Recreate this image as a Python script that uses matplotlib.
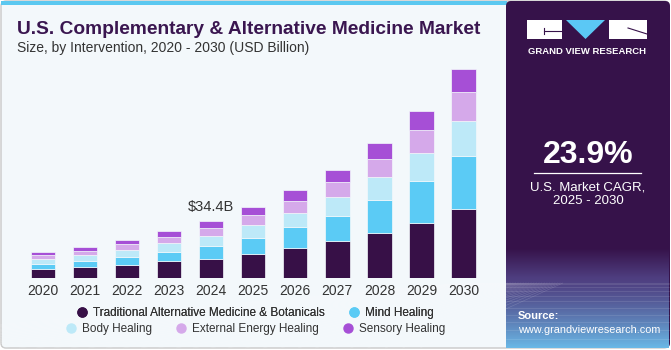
import numpy as np
import matplotlib.pyplot as plt
from matplotlib.patches import FancyBboxPatch, Rectangle, Polygon
from matplotlib.lines import Line2D

plt.rcParams['font.family'] = ['Liberation Sans', 'DejaVu Sans']

years = ['2020', '2021', '2022', '2023', '2024', '2025', '2026', '2027', '2028', '2029', '2030']
traditional = [5.4, 6.6, 8.2, 10.2, 11.8, 14.7, 18.1, 22.1, 26.9, 33.3, 41.4]
mind = [3.4, 3.8, 4.6, 5.6, 7.7, 9.6, 12.4, 15.3, 19.9, 24.9, 31.5]
body = [2.8, 3.4, 4.2, 5.2, 6.0, 7.4, 8.4, 11.2, 13.5, 16.7, 20.9]
external = [2.4, 2.4, 3.6, 3.4, 4.7, 5.8, 7.2, 8.6, 11.0, 13.5, 17.1]
sensory = [1.8, 2.6, 2.2, 3.6, 4.2, 5.2, 6.4, 7.6, 9.2, 11.2, 13.9]
series_names = ['Traditional Alternative Medicine & Botanicals', 'Mind Healing',
                'Body Healing', 'External Energy Healing', 'Sensory Healing']
colors = ['#371047', '#5BCBF5', '#BDE9F8', '#D5A9EA', '#A64FD6']
annot_year = '2024'
annot_text = '$34.4B'
cagr = '23.9%'

W, H = 671, 350
BG = '#F3F8FB'
PURPLE = '#36124A'

fig = plt.figure(figsize=(W / 100, H / 100), dpi=100)
fig.patch.set_facecolor('white')

# background layer in pixel coords
bg = fig.add_axes([0, 0, 1, 1], zorder=0)
bg.set_xlim(0, W)
bg.set_ylim(H, 0)
bg.axis('off')
bg.add_patch(FancyBboxPatch((1, 1), W - 3, H - 3, boxstyle='round,pad=0,rounding_size=5',
                            facecolor=BG, edgecolor='#C8C8C8', lw=1))
bg.add_patch(Rectangle((1, 0.5), 506, 4, facecolor='#5BC8F0', edgecolor='none'))

# right panel
bg.add_patch(FancyBboxPatch((506, 1), W - 507, H - 3, boxstyle='round,pad=0,rounding_size=5',
                            facecolor=PURPLE, edgecolor='none'))
top_c = np.array([0x36, 0x12, 0x4A]) / 255
mid_c = np.array([0x55, 0x4A, 0x8E]) / 255
bot_c = np.array([0x6A, 0xB8, 0xE6]) / 255
n = 100
grad = np.zeros((n, 1, 3))
for i in range(n):
    t = i / (n - 1)
    if t < 0.3:
        c = top_c + (mid_c - top_c) * (t / 0.3) * 0.8
    else:
        c = top_c + (mid_c - top_c) * 0.8 + (bot_c - (top_c + (mid_c - top_c) * 0.8)) * ((t - 0.3) / 0.7) ** 1.3
    grad[i, 0] = c
bg.imshow(grad, extent=(506, W - 2, H - 2, 248), aspect='auto', zorder=1)
# perspective mesh
for k in np.linspace(-260, 420, 40):
    bg.plot([588 + (k - 588) * 0.15, k], [283, H - 2], color='white', lw=0.4, alpha=0.18, zorder=2, clip_on=True)
for j in range(12):
    yy = 283 + (H - 2 - 283) * (j / 11) ** 1.6
    bg.plot([506, W - 2], [yy, yy], color='white', lw=0.4, alpha=0.18, zorder=2)
bg.set_xlim(0, W)
bg.set_ylim(H, 0)

# logo
bg.add_patch(Rectangle((527, 20), 35, 19, facecolor='white', zorder=3))
bg.plot([544, 562], [31, 31], color=PURPLE, lw=0.8, zorder=4)
bg.plot([544, 544], [28, 34], color=PURPLE, lw=0.8, zorder=4)
bg.add_patch(Polygon([[566, 20], [605, 20], [585.5, 39]], facecolor='#5BC8F5', zorder=3))
bg.add_patch(Rectangle((609, 20), 38, 19, facecolor='white', zorder=3))
bg.plot([628, 647], [28, 34], color=PURPLE, lw=0.8, zorder=4)
bg.text(587, 51, 'GRAND VIEW RESEARCH', color='white', fontsize=6.8, fontweight='bold',
        ha='center', va='center', zorder=4)

bg.text(588, 155, cagr, color='white', fontsize=23, fontweight='bold', ha='center', va='center', zorder=4)
bg.plot([534, 641], [173, 173], color='white', lw=0.9, zorder=4)
bg.text(588, 187, 'U.S. Market CAGR,', color='white', fontsize=9.5, ha='center', va='center', zorder=4)
bg.text(588, 201, '2025 - 2030', color='white', fontsize=9.5, ha='center', va='center', zorder=4)
bg.text(518, 316, 'Source:', color='white', fontsize=8, fontweight='bold', ha='left', va='center', zorder=4)
bg.text(518, 330, 'www.grandviewresearch.com', color='white', fontsize=7.8, ha='left', va='center', zorder=4)

# titles
bg.text(17, 29, 'U.S. Complementary & Alternative Medicine Market', color='#3A1650',
        fontsize=13.8, fontweight='bold', ha='left', va='center')
bg.text(17, 48, 'Size, by Intervention, 2020 - 2030 (USD Billion)', color='#333333',
        fontsize=10, ha='left', va='center')

# chart
ax = fig.add_axes([13.3 / W, 71.7 / H, 479.7 / W, 217.8 / H], zorder=2)
ax.patch.set_alpha(0)
x = np.arange(len(years))
bottom = np.zeros(len(years))
for vals, col in zip([traditional, mind, body, external, sensory], colors):
    ax.bar(x, vals, width=0.58, bottom=bottom, color=col, edgecolor=BG, linewidth=0.5)
    bottom += np.array(vals)
ax.set_xlim(-0.7, 10.7)
ax.set_ylim(0, 130)
ax.set_xticks(x)
ax.set_xticklabels(years, fontsize=10, color='#333333')
ax.tick_params(axis='x', length=0, pad=4)
ax.set_yticks([])
for s in ax.spines.values():
    s.set_visible(False)
i = years.index(annot_year)
ax.annotate(annot_text, (x[i], bottom[i]), xytext=(0, 10), textcoords='offset points',
            ha='center', va='center', fontsize=10.5, color='#333333')

# legend
def handle(c):
    return Line2D([], [], marker='o', linestyle='none', markersize=6.5, markerfacecolor=c, markeredgecolor=c)

leg1 = fig.legend([handle(c) for c in colors[:2]], series_names[:2], ncol=2, loc='center',
                  bbox_to_anchor=(255 / W, 1 - 313 / H), frameon=False, fontsize=8.5,
                  handletextpad=0.4, columnspacing=2.0, handlelength=1.0, labelcolor='#333333')
leg2 = fig.legend([handle(c) for c in colors[2:]], series_names[2:], ncol=3, loc='center',
                  bbox_to_anchor=(255 / W, 1 - 329 / H), frameon=False, fontsize=8.5,
                  handletextpad=0.4, columnspacing=2.0, handlelength=1.0, labelcolor='#333333')
fig.add_artist(leg1)

fig.savefig('out.png', dpi=100, facecolor=fig.get_facecolor())
